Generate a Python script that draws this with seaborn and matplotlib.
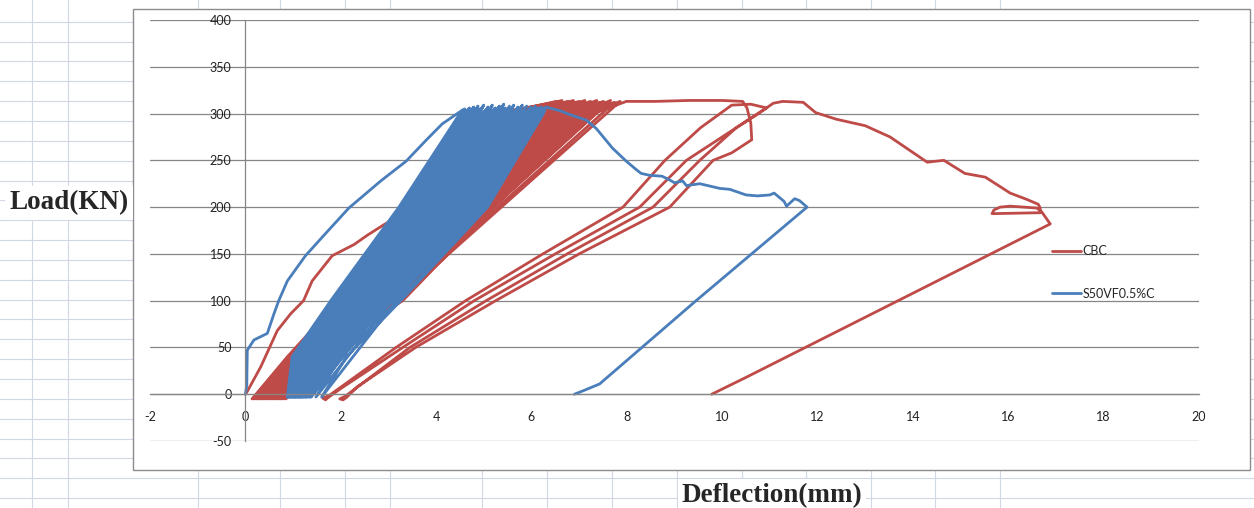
import numpy as np
import pandas as pd
import matplotlib
matplotlib.use("Agg")
import matplotlib.pyplot as plt
import seaborn as sns
from matplotlib.lines import Line2D
from matplotlib.patches import Rectangle

series_names = ["CBC", "S50VF0.5%C"]
series_colors = ["#BE4B48", "#4A7EBB"]

# ---- CBC (red) ----
# first loading branch
cbc_env_x = [0.0, 0.04, 0.32, 0.67, 0.95, 1.22, 1.40, 1.82, 2.28, 2.56, 2.90, 3.26, 3.54, 4.30, 5.10, 5.80, 6.30]
cbc_env_y = [0, 3, 29, 68, 86, 100, 121, 148, 160, 170, 181, 192, 208, 240, 272, 298, 309]
# reload cycles: x at load 0 (base), 40, 100, 200, 300, then peak
cbc_base = [0.14, 0.17, 0.20, 0.23, 0.26, 0.29, 0.32, 0.35, 0.38, 0.41, 0.44, 0.47,
            0.50, 0.53, 0.56, 0.59, 0.62, 0.65, 0.68, 0.71, 0.74, 0.77, 0.81, 0.85]
cbc_x40 = [0.88, 0.91, 0.94, 0.96, 0.99, 1.02, 1.04, 1.07, 1.10, 1.12, 1.15, 1.18,
           1.20, 1.23, 1.26, 1.28, 1.31, 1.34, 1.36, 1.39, 1.42, 1.44, 1.47, 1.50]
cbc_x100 = [1.95, 2.01, 2.07, 2.13, 2.19, 2.25, 2.31, 2.37, 2.43, 2.49, 2.55, 2.61,
            2.67, 2.73, 2.79, 2.85, 2.91, 2.97, 3.03, 3.09, 3.15, 3.20, 3.25, 3.30]
cbc_x200 = [3.45, 3.53, 3.60, 3.68, 3.75, 3.83, 3.90, 3.98, 4.05, 4.13, 4.20, 4.28,
            4.35, 4.43, 4.50, 4.58, 4.65, 4.73, 4.80, 4.88, 4.95, 5.03, 5.11, 5.20]
cbc_x300 = [5.20, 5.29, 5.38, 5.47, 5.56, 5.65, 5.74, 5.83, 5.92, 6.01, 6.10, 6.19,
            6.28, 6.37, 6.46, 6.55, 6.64, 6.73, 6.82, 6.91, 7.00, 7.09, 7.19, 7.30]
cbc_peak_x = [6.40, 6.46, 6.52, 6.58, 6.64, 6.70, 6.76, 6.82, 6.88, 6.94, 7.00, 7.06,
              7.12, 7.18, 7.24, 7.30, 7.37, 7.44, 7.51, 7.58, 7.66, 7.74, 7.86, 7.99]
cbc_peak_y = [311, 309, 313, 310, 314, 311, 313, 310, 314, 311, 313, 312,
              314, 311, 313, 310, 314, 312, 313, 311, 314, 312, 313, 313]
# large cycles, post-peak branch and final unloading
cbc_tail_x = [8.60, 9.30, 10.00, 10.43, 10.52, 10.60, 10.62, 10.20, 9.81, 8.90, 7.00, 5.25, 3.57, 2.35, 2.13, 2.05, 1.98,
              2.10, 3.45, 5.05, 6.75, 8.55, 9.53, 10.30, 10.93,
              10.70, 10.30, 9.25, 8.27, 6.50, 4.80, 3.30, 2.00, 1.75, 1.68, 1.62,
              1.74, 3.16, 4.62, 6.24, 7.92, 8.80, 9.55, 10.20, 10.60, 10.93,
              11.07, 11.27, 11.70, 11.96, 12.39, 13.00, 13.52, 14.30, 14.65, 15.09, 15.52, 16.04, 16.40,
              16.63, 16.67, 16.67, 15.66, 15.70, 15.83, 16.04, 16.60, 16.70, 16.88, 10.50, 9.78]
cbc_tail_y = [313, 314, 314, 313, 306, 290, 272, 258, 250, 200, 150, 100, 50, 8, -3, -6, -5,
              -2, 50, 100, 150, 200, 250, 285, 306,
              298, 285, 250, 200, 150, 100, 50, 6, -3, -6, -4,
              -2, 50, 100, 150, 200, 250, 285, 309, 310, 306,
              311, 313, 312, 301, 294, 287, 275, 248, 250, 236, 232, 215, 208,
              203, 199, 194, 193, 197, 200, 201, 199, 195, 182, 18, 0]

# ---- S50VF0.5%C (blue) ----
s50_env_x = [0.0, 0.03, 0.04, 0.18, 0.46, 0.60, 0.70, 0.88, 1.26, 1.65, 2.17, 2.84, 3.37, 3.80, 4.13, 4.56]
s50_env_y = [0, 10, 47, 58, 65, 86, 100, 121, 148, 170, 199, 228, 249, 272, 289, 304]
s50_base = [0.88, 0.89, 0.90, 0.91, 0.93, 0.94, 0.95, 0.96, 0.98, 0.99, 1.00, 1.01, 1.03, 1.04,
            1.05, 1.06, 1.08, 1.09, 1.10, 1.11, 1.13, 1.14, 1.15, 1.16, 1.18, 1.19, 1.20, 1.22,
            1.23, 1.25, 1.26, 1.28, 1.29, 1.31, 1.33, 1.35, 1.37, 1.38, 1.48, 1.60]
s50_x40 = [0.98, 1.00, 1.03, 1.05, 1.08, 1.10, 1.13, 1.15, 1.18, 1.20, 1.23, 1.25, 1.28, 1.30,
           1.33, 1.35, 1.38, 1.40, 1.43, 1.45, 1.48, 1.50, 1.53, 1.55, 1.58, 1.60, 1.63, 1.65,
           1.68, 1.70, 1.73, 1.75, 1.78, 1.80, 1.83, 1.85, 1.88, 1.90, 2.00, 2.12]
s50_x100 = [1.79, 1.82, 1.86, 1.89, 1.93, 1.96, 2.00, 2.03, 2.07, 2.10, 2.14, 2.17, 2.21, 2.24,
            2.28, 2.31, 2.35, 2.38, 2.42, 2.45, 2.49, 2.52, 2.56, 2.59, 2.63, 2.66, 2.70, 2.73,
            2.77, 2.80, 2.84, 2.87, 2.91, 2.94, 2.98, 3.02, 3.06, 3.10, 3.20, 3.26]
s50_x200 = [3.22, 3.26, 3.31, 3.35, 3.40, 3.44, 3.49, 3.53, 3.58, 3.62, 3.67, 3.71, 3.76, 3.80,
            3.85, 3.89, 3.94, 3.98, 4.03, 4.07, 4.12, 4.16, 4.21, 4.25, 4.30, 4.35, 4.40, 4.45,
            4.50, 4.55, 4.60, 4.65, 4.70, 4.76, 4.82, 4.88, 4.94, 5.00, 5.05, 5.08]
s50_x300 = [4.50, 4.54, 4.59, 4.63, 4.68, 4.72, 4.77, 4.81, 4.86, 4.90, 4.95, 4.99, 5.04, 5.08,
            5.13, 5.17, 5.22, 5.26, 5.31, 5.35, 5.40, 5.44, 5.49, 5.53, 5.58, 5.62, 5.67, 5.71,
            5.76, 5.80, 5.85, 5.89, 5.94, 5.98, 6.03, 6.07, 6.11, 6.15, 6.20, 6.25]
s50_peak_x = [4.60, 4.64, 4.70, 4.73, 4.79, 4.82, 4.88, 4.91, 4.97, 5.00, 5.06, 5.09, 5.15, 5.18,
              5.24, 5.27, 5.33, 5.36, 5.42, 5.45, 5.51, 5.54, 5.60, 5.63, 5.69, 5.72, 5.78, 5.81,
              5.87, 5.90, 5.96, 5.99, 6.05, 6.08, 6.13, 6.16, 6.20, 6.24, 6.28, 6.30]
s50_peak_y = [305, 302, 306, 303, 307, 304, 308, 305, 306, 309, 304, 307, 305, 309,
              306, 303, 308, 305, 310, 306, 304, 308, 306, 309, 305, 307, 304, 309,
              306, 308, 305, 307, 304, 308, 306, 305, 307, 306, 304, 307]
s50_tail_x = [6.60, 6.80, 7.15, 7.36, 7.70, 7.99, 8.20, 8.30, 8.48, 8.74, 8.90, 9.00, 9.17, 9.25,
              9.53, 9.95, 10.16, 10.50, 10.74, 11.00, 11.09, 11.30, 11.35, 11.52, 11.62, 11.78,
              9.43, 7.43, 7.10, 6.90]
s50_tail_y = [303, 299, 293, 284, 263, 249, 240, 236, 234, 233, 229, 226, 228, 223,
              225, 220, 219, 213, 212, 213, 215, 206, 201, 209, 207, 200,
              99, 11, 4, 0]


def cycle_path(base, x40, x100, x200, x300, peak_x, peak_y, base_load):
    xs, ys = [], []
    for i in range(len(base)):
        xs += [base[i], x40[i], x100[i], x200[i], x300[i], peak_x[i]]
        ys += [base_load, 40, 100, 200, 300, peak_y[i]]
    return xs, ys


cx, cy = cycle_path(cbc_base, cbc_x40, cbc_x100, cbc_x200, cbc_x300, cbc_peak_x, cbc_peak_y, -5)
bx, by = cycle_path(s50_base, s50_x40, s50_x100, s50_x200, s50_x300, s50_peak_x, s50_peak_y, -3)
cbc_x = cbc_env_x + cx + cbc_tail_x
cbc_y = cbc_env_y + cy + cbc_tail_y
s50_x = s50_env_x + bx + s50_tail_x
s50_y = s50_env_y + by + s50_tail_y

df = pd.concat([
    pd.DataFrame({"deflection": cbc_x, "load": cbc_y, "series": series_names[0]}),
    pd.DataFrame({"deflection": s50_x, "load": s50_y, "series": series_names[1]}),
], ignore_index=True)

sns.set_style("white")
plt.rcParams["font.family"] = ["Lato", "DejaVu Sans"]
plt.rcParams["axes.unicode_minus"] = False

fig = plt.figure(figsize=(12.54, 5.08), dpi=100)

# spreadsheet cell grid behind the chart
grid_c = "#D0D7E5"
for k in range(25):
    yy = 1 - (21.7 + 19.85 * k) / 508
    fig.add_artist(Line2D([0, 1], [yy, yy], transform=fig.transFigure, color=grid_c, lw=0.8, zorder=-3))
for xp in [32, 68, 198, 280, 345, 390, 482, 547, 612, 677, 742, 806, 871, 935, 1000]:
    xx = xp / 1254
    fig.add_artist(Line2D([xx, xx], [0, 1], transform=fig.transFigure, color=grid_c, lw=0.8, zorder=-3))

# chart area
fig.add_artist(Rectangle((133 / 1254, 1 - 470 / 508), 1117 / 1254, 461 / 508, transform=fig.transFigure,
                         facecolor="white", edgecolor="#8C8C8C", lw=1.0, zorder=-2))

ax = fig.add_axes([150 / 1254, 1 - 441 / 508, 1049 / 1254, 421 / 508])
ax.set_facecolor("none")

sns.lineplot(data=df, x="deflection", y="load", hue="series", hue_order=series_names,
             palette=series_colors, sort=False, estimator=None, errorbar=None,
             legend=False, lw=2.0, ax=ax)

ax.set_xlim(-2, 20)
ax.set_ylim(-50, 400)
ax.set_xticks(np.arange(-2, 21, 2))
ax.set_yticks(np.arange(-50, 401, 50))
ax.set_xlabel("")
ax.set_ylabel("")

for s in ["top", "right"]:
    ax.spines[s].set_visible(False)
ax.spines["left"].set_position(("data", 0))
ax.spines["bottom"].set_position(("data", 0))
for s in ["left", "bottom"]:
    ax.spines[s].set_color("#868686")
    ax.spines[s].set_linewidth(0.9)
ax.grid(axis="y", color="#868686", lw=0.9)
ax.grid(axis="x", visible=False)
ax.set_axisbelow(True)

ax.tick_params(axis="y", length=0, pad=10, labelsize=9, labelcolor="#222222")
ax.tick_params(axis="x", length=4, width=0.9, color="#868686", direction="out", pad=8,
               labelsize=9, labelcolor="#222222")

handles = [Line2D([], [], color=c, lw=2) for c in series_colors]
fig.legend(handles, series_names, loc="upper left", bbox_to_anchor=(1052 / 1254, 1 - 245 / 508),
           frameon=False, fontsize=9, handlelength=2.3, handletextpad=0.15, labelspacing=2.45,
           borderpad=0, borderaxespad=0)

fig.text(69 / 1254, 1 - 203 / 508, "Load(KN)", ha="center", va="center", fontsize=19.5,
         family="Liberation Serif", weight="bold",
         bbox=dict(facecolor="white", edgecolor="none", pad=3))
fig.text(772 / 1254, 1 - 496 / 508, "Deflection(mm)", ha="center", va="center", fontsize=19.5,
         family="Liberation Serif", weight="bold",
         bbox=dict(facecolor="white", edgecolor="none", pad=3))

fig.savefig("out.png", dpi=100)
